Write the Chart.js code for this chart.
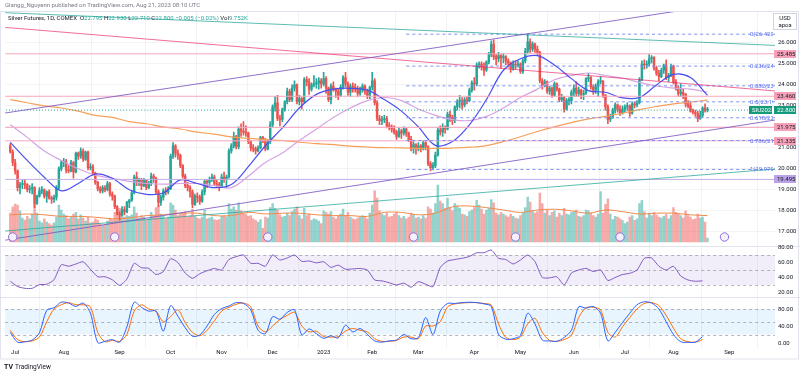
<!DOCTYPE html>
<html>
<head>
<meta charset="utf-8">
<script src="https://cdn.jsdelivr.net/npm/chart.js@4.4.0/dist/chart.umd.min.js"></script>
<style>
  html, body { margin: 0; padding: 0; background: #fff; }
  canvas { display: block; }
</style>
</head>
<body>
<canvas id="c" width="800" height="375"></canvas>
<script>
// bar index 0 = 29 Jun 2022, 287 = 21 Aug 2023 (daily, COMEX silver)
const monthIdx = [2, 22, 45, 66, 87, 108, 129, 149, 168, 191, 210, 232, 253, 273, 296];
const monthLabels = ['Jul', 'Aug', 'Sep', 'Oct', 'Nov', 'Dec', '2023', 'Feb', 'Mar', 'Apr', 'May', 'Jun', 'Jul', 'Aug', 'Sep'];

const opens = [
  21.10, 20.80, 20.30, 19.90, 19.10, 19.25, 19.30, 19.25, 19.00, 19.05, 19.10, 18.35, 18.70, 18.95, 19.00, 18.70, 18.90, 18.60, 18.55, 18.65, 19.10, 20.00,
  20.30, 20.35, 19.95, 19.90, 20.30, 19.85, 20.75, 20.60, 20.85, 20.45, 20.80, 20.05, 20.10, 19.80, 19.35, 19.05, 18.95, 19.10, 19.00, 19.30, 18.80, 18.70, 18.20,
  17.85, 17.80, 18.05, 17.95, 18.40, 18.50, 18.85, 19.60, 19.40, 19.50, 19.20, 19.45, 19.10, 19.30, 19.65, 19.55, 18.90, 18.40, 18.65, 18.95, 18.90,
  19.05, 20.60, 21.10, 20.75, 20.65, 20.15, 19.65, 19.20, 19.10, 18.90, 18.30, 18.70, 18.65, 18.45, 18.90, 19.40, 19.35, 19.50, 19.60, 19.30, 19.25,
  19.15, 19.60, 19.50, 19.60, 20.85, 21.10, 21.55, 21.05, 21.90, 21.80, 21.75, 21.70, 21.30, 21.00, 20.95, 20.85, 21.00, 21.50, 21.40, 20.95, 21.30,
  22.10, 22.95, 23.15, 22.40, 22.35, 22.85, 23.20, 23.70, 23.30, 23.85, 24.00, 23.20, 23.35, 23.20, 24.25, 24.15, 23.80, 24.00, 24.05, 24.10, 24.20,
  24.05, 24.30, 23.85, 23.30, 23.95, 23.80, 23.70, 23.50, 23.90, 24.35, 24.05, 23.65, 23.95, 23.90, 23.80, 23.60, 23.75, 23.95, 23.70, 23.50,
  23.90, 24.20, 23.15, 22.40, 22.30, 22.35, 22.40, 22.05, 22.00, 21.90, 21.75, 21.55, 21.80, 21.70, 21.90, 21.70, 21.40, 20.95, 21.15,
  20.95, 21.10, 20.95, 21.25, 21.05, 20.25, 20.05, 20.15, 20.65, 21.85, 21.75, 21.95, 21.90, 22.60, 22.45, 22.30, 22.95, 23.20, 23.25, 23.05, 23.30, 23.25, 23.75,
  24.10, 24.05, 24.95, 25.00, 24.85, 24.70, 25.10, 25.45, 25.95, 25.35, 25.25, 25.40, 25.30, 25.35, 25.15, 25.05, 24.80, 25.00, 24.95,
  25.00, 24.65, 25.15, 25.60, 26.05, 25.70, 25.95, 25.70, 25.55, 24.20, 23.95, 24.15, 23.70, 23.85, 23.50, 24.05, 23.80, 23.30, 23.40, 22.85, 23.25, 23.25,
  23.65, 23.85, 23.60, 23.75, 23.55, 23.60, 24.30, 24.35, 23.90, 23.75, 23.95, 24.15, 24.20, 23.50, 22.95, 22.35, 22.45, 22.80, 23.05, 22.85, 22.65,
  22.85, 22.95, 23.00, 22.65, 23.10, 23.05, 23.15, 24.25, 25.00, 24.95, 25.00, 25.25, 25.30, 24.80, 24.55, 24.40, 24.70, 24.95, 24.35, 24.45,
  24.90, 24.15, 23.85, 23.60, 23.65, 23.55, 23.10, 23.00, 22.75, 22.70, 22.65, 22.40, 22.55, 22.90, 22.795
];
const highs = [
  21.20, 20.90, 20.45, 19.95, 19.35, 19.45, 19.50, 19.30, 19.20, 19.30, 19.15, 18.75, 19.10, 19.15, 19.05, 18.95, 19.00, 18.70, 18.75, 19.20, 20.10, 20.40,
  20.50, 20.45, 20.15, 20.40, 20.35, 20.80, 20.80, 21.00, 20.95, 20.85, 20.85, 20.25, 20.20, 19.85, 19.40, 19.15, 19.20, 19.20, 19.40, 19.35, 18.90, 18.75, 18.25,
  17.95, 18.20, 18.20, 18.45, 18.55, 18.95, 19.70, 19.85, 19.55, 19.55, 19.55, 19.50, 19.40, 19.80, 19.75, 19.60, 19.00, 18.75, 19.05, 19.10, 19.15,
  20.70, 21.25, 21.15, 20.90, 20.70, 20.20, 19.75, 19.35, 19.20, 19.00, 18.80, 18.85, 18.75, 19.00, 19.50, 19.50, 19.60, 19.75, 19.70, 19.45, 19.35,
  19.75, 19.85, 19.70, 20.95, 21.20, 21.75, 21.60, 22.00, 22.15, 22.25, 22.05, 21.75, 21.35, 21.15, 21.05, 21.10, 21.55, 21.55, 21.45, 21.40, 22.25,
  23.05, 23.45, 23.50, 22.55, 22.90, 23.25, 23.85, 23.80, 24.00, 24.20, 24.05, 23.50, 23.40, 24.35, 24.40, 24.30, 24.10, 24.45, 24.30, 24.35, 24.30,
  24.60, 24.40, 23.90, 24.05, 24.15, 23.85, 23.80, 24.00, 24.45, 24.60, 24.15, 24.05, 24.10, 24.05, 23.95, 23.90, 24.05, 24.00, 23.80, 23.95,
  24.60, 24.30, 23.25, 22.55, 22.50, 22.55, 22.50, 22.20, 22.10, 22.05, 21.85, 21.95, 21.90, 22.00, 21.95, 21.75, 21.55, 21.30, 21.20,
  21.25, 21.15, 21.35, 21.30, 21.10, 20.35, 20.30, 20.80, 21.95, 22.05, 22.15, 22.05, 22.70, 22.75, 22.55, 23.00, 23.30, 23.50, 23.40, 23.40, 23.45, 23.85, 24.20,
  24.35, 25.05, 25.10, 25.10, 25.05, 25.15, 25.55, 26.10, 26.15, 25.45, 25.55, 25.45, 25.50, 25.40, 25.25, 25.10, 25.15, 25.15, 25.15,
  25.05, 25.25, 25.75, 26.42, 26.20, 26.05, 26.00, 25.85, 25.60, 24.30, 24.25, 24.20, 23.95, 23.90, 24.15, 24.10, 23.85, 23.55, 23.45, 23.35, 23.40, 23.75,
  24.00, 24.15, 23.90, 23.80, 23.75, 24.35, 24.55, 24.40, 24.00, 24.05, 24.25, 24.40, 24.20, 23.55, 23.05, 22.60, 22.90, 23.15, 23.10, 23.00, 23.00,
  23.05, 23.15, 23.05, 23.20, 23.20, 23.25, 24.35, 25.15, 25.20, 25.15, 25.45, 25.40, 25.35, 24.90, 24.70, 24.80, 25.00, 25.20, 24.55, 25.00,
  24.95, 24.25, 23.95, 24.05, 23.80, 23.60, 23.25, 23.15, 22.85, 22.80, 22.75, 22.75, 22.95, 23.10, 22.93
];
const lows = [
  20.75, 20.15, 19.75, 18.95, 18.80, 19.05, 19.05, 18.90, 18.85, 18.80, 18.15, 18.30, 18.65, 18.80, 18.60, 18.40, 18.55, 18.35, 18.40, 18.50, 19.00, 19.90,
  20.10, 19.80, 19.80, 19.85, 19.55, 19.80, 20.45, 20.50, 20.35, 20.40, 19.95, 19.95, 19.70, 19.25, 18.95, 18.85, 18.85, 18.90, 18.95, 18.70, 18.50, 18.10, 17.80,
  17.55, 17.75, 17.80, 17.90, 18.15, 18.45, 18.80, 19.20, 19.20, 19.00, 19.15, 19.00, 19.05, 19.20, 19.35, 18.80, 18.20, 18.25, 18.50, 18.75, 18.80,
  19.00, 20.50, 20.55, 20.45, 20.05, 19.55, 19.10, 18.95, 18.65, 18.15, 18.25, 18.40, 18.30, 18.40, 18.75, 19.10, 19.20, 19.40, 19.20, 19.10, 18.95,
  19.10, 19.35, 19.10, 19.55, 20.75, 21.00, 20.95, 20.95, 21.55, 21.60, 21.55, 21.20, 20.85, 20.80, 20.70, 20.80, 20.95, 21.25, 20.85, 20.90, 21.20,
  22.00, 22.75, 22.30, 22.05, 22.25, 22.75, 23.10, 23.20, 23.20, 23.70, 23.10, 23.05, 22.85, 23.15, 23.95, 23.55, 23.70, 23.90, 23.85, 23.80, 23.85,
  23.95, 23.60, 23.20, 23.10, 23.70, 23.40, 23.30, 23.45, 23.80, 23.90, 23.50, 23.45, 23.65, 23.65, 23.45, 23.50, 23.65, 23.55, 23.35, 23.35,
  23.75, 23.05, 22.30, 22.10, 22.10, 22.20, 21.95, 21.85, 21.75, 21.65, 21.40, 21.50, 21.45, 21.60, 21.55, 21.30, 20.85, 20.75, 20.70,
  20.85, 20.80, 20.90, 20.90, 20.15, 19.90, 19.95, 20.05, 20.60, 21.60, 21.55, 21.70, 21.85, 22.25, 22.10, 22.20, 22.80, 22.90, 22.85, 22.95, 23.10, 23.20, 23.65,
  23.75, 23.95, 24.80, 24.70, 24.45, 24.65, 25.00, 25.35, 25.20, 24.95, 25.10, 24.80, 25.05, 24.95, 24.85, 24.60, 24.70, 24.75, 24.85,
  24.55, 24.55, 25.05, 25.50, 25.55, 25.60, 25.55, 25.40, 24.10, 23.80, 23.90, 23.60, 23.55, 23.40, 23.45, 23.70, 23.20, 23.20, 22.70, 22.80, 23.05, 23.10,
  23.45, 23.45, 23.45, 23.35, 23.30, 23.55, 24.15, 23.80, 23.55, 23.60, 23.45, 24.05, 23.40, 22.80, 22.15, 22.25, 22.40, 22.65, 22.70, 22.55, 22.60,
  22.70, 22.80, 22.50, 22.60, 22.90, 22.95, 23.10, 24.20, 24.75, 24.80, 24.90, 25.05, 24.70, 24.45, 24.20, 24.35, 24.55, 24.25, 24.15, 24.40,
  24.05, 23.75, 23.45, 23.45, 23.35, 22.95, 22.90, 22.70, 22.60, 22.50, 22.25, 22.35, 22.45, 22.70, 22.71
];
const closes = [
  20.80, 20.30, 19.90, 19.10, 19.25, 19.30, 19.25, 19.00, 19.05, 19.10, 18.35, 18.70, 18.95, 19.00, 18.70, 18.90, 18.60, 18.55, 18.65, 19.10, 20.00, 20.30,
  20.35, 19.95, 19.90, 20.30, 19.85, 20.75, 20.60, 20.85, 20.45, 20.80, 20.05, 20.10, 19.80, 19.35, 19.05, 18.95, 19.10, 19.00, 19.30, 18.80, 18.70, 18.20, 17.85,
  17.80, 18.05, 17.95, 18.40, 18.50, 18.85, 19.60, 19.40, 19.50, 19.20, 19.45, 19.10, 19.30, 19.65, 19.55, 18.90, 18.40, 18.65, 18.95, 18.90, 19.05,
  20.60, 21.10, 20.75, 20.65, 20.15, 19.65, 19.20, 19.10, 18.90, 18.30, 18.70, 18.65, 18.45, 18.90, 19.40, 19.35, 19.50, 19.60, 19.30, 19.25, 19.15,
  19.60, 19.50, 19.60, 20.85, 21.10, 21.55, 21.05, 21.90, 21.80, 21.75, 21.70, 21.30, 21.00, 20.95, 20.85, 21.00, 21.50, 21.40, 20.95, 21.30, 22.10,
  22.95, 23.15, 22.40, 22.35, 22.85, 23.20, 23.70, 23.30, 23.85, 24.00, 23.20, 23.35, 23.20, 24.25, 24.15, 23.80, 24.00, 24.05, 24.10, 24.20, 24.05,
  24.30, 23.85, 23.30, 23.95, 23.80, 23.70, 23.50, 23.90, 24.35, 24.05, 23.65, 23.95, 23.90, 23.80, 23.60, 23.75, 23.95, 23.70, 23.50, 23.90,
  24.20, 23.15, 22.40, 22.30, 22.35, 22.40, 22.05, 22.00, 21.90, 21.75, 21.55, 21.80, 21.70, 21.90, 21.70, 21.40, 20.95, 21.15, 20.95,
  21.10, 20.95, 21.25, 21.05, 20.25, 20.05, 20.15, 20.65, 21.85, 21.75, 21.95, 21.90, 22.60, 22.45, 22.30, 22.95, 23.20, 23.25, 23.05, 23.30, 23.25, 23.75, 24.10,
  24.05, 24.95, 25.00, 24.85, 24.70, 25.10, 25.45, 25.95, 25.35, 25.25, 25.40, 25.30, 25.35, 25.15, 25.05, 24.80, 25.00, 24.95, 25.00,
  24.65, 25.15, 25.60, 26.05, 25.70, 25.95, 25.70, 25.55, 24.20, 23.95, 24.15, 23.70, 23.85, 23.50, 24.05, 23.80, 23.30, 23.40, 22.85, 23.25, 23.25, 23.65,
  23.85, 23.60, 23.75, 23.55, 23.60, 24.30, 24.35, 23.90, 23.75, 23.95, 24.15, 24.20, 23.50, 22.95, 22.35, 22.45, 22.80, 23.05, 22.85, 22.65, 22.85,
  22.95, 23.00, 22.65, 23.10, 23.05, 23.15, 24.25, 25.00, 24.95, 25.00, 25.25, 25.30, 24.80, 24.55, 24.40, 24.70, 24.95, 24.35, 24.45, 24.90,
  24.15, 23.85, 23.60, 23.65, 23.55, 23.10, 23.00, 22.75, 22.70, 22.65, 22.40, 22.55, 22.90, 22.80, 22.80
];
// volume, thousands of contracts
const volumes = [
  72, 88, 95, 92, 78, 60, 55, 64, 58, 70, 96, 72, 52, 48, 58, 50, 46, 42, 48, 62, 92, 80,
  70, 66, 58, 62, 70, 74, 58, 68, 60, 52, 62, 48, 50, 58, 55, 46, 42, 44, 52, 60, 56, 74, 82,
  84, 70, 62, 66, 64, 68, 88, 72, 60, 66, 62, 54, 58, 74, 66, 86, 92, 70, 64, 58, 62,
  98, 92, 80, 66, 70, 72, 76, 62, 66, 82, 64, 60, 58, 62, 80, 58, 60, 62, 56, 54, 56,
  64, 66, 62, 96, 82, 88, 80, 98, 78, 72, 70, 64, 66, 58, 54, 50, 56, 34, 62, 60, 86,
  96, 84, 80, 68, 62, 64, 72, 66, 76, 82, 88, 66, 58, 84, 66, 70, 54, 58, 56, 52, 46,
  78, 74, 70, 76, 62, 58, 64, 70, 82, 66, 74, 62, 58, 56, 60, 62, 66, 64, 58, 72,
  92, 128, 110, 78, 70, 66, 72, 62, 64, 70, 74, 66, 60, 64, 58, 62, 72, 68, 60,
  62, 58, 66, 60, 88, 82, 72, 96, 142, 102, 96, 84, 110, 86, 78, 96, 90, 84, 70, 68, 64, 76, 80,
  86, 104, 92, 82, 70, 80, 84, 106, 98, 72, 68, 74, 70, 66, 62, 70, 64, 60, 58,
  66, 72, 86, 112, 100, 78, 72, 76, 122, 96, 72, 80, 66, 74, 78, 62, 72, 66, 84, 70, 68, 74,
  76, 80, 64, 62, 66, 80, 78, 72, 66, 62, 70, 126, 72, 94, 108, 70, 56, 64, 62, 58, 54,
  46, 50, 62, 66, 54, 58, 96, 104, 76, 60, 72, 66, 74, 68, 62, 60, 64, 70, 58, 66,
  86, 74, 70, 66, 60, 78, 66, 62, 56, 58, 70, 60, 62, 50, 10
];

// indicator lines, one value every maStep bars
const maStep = 7;
const sma20 = [21.26, 20.4, 19.6, 18.95, 19.3, 19.75, 19.55, 19.0, 18.78, 18.85, 19.47, 19.3, 19.1, 19.25, 20.1, 21.1, 21.95, 22.9, 23.55, 23.8, 23.84,
  23.75, 23.3, 22.75, 22.0, 21.12, 21.3, 22.1, 23.3, 24.7, 25.25, 25.4, 24.95, 24.3, 23.73, 23.65, 23.38, 23.4, 24.0, 24.5, 24.35, 23.5];
const sma50 = [22.1, 21.5, 20.85, 20.4, 20.0, 19.7, 19.55, 19.4, 19.3, 19.27, 19.3, 19.3, 19.2, 19.1, 19.65, 20.3, 20.75, 21.35, 21.9, 22.45, 22.9,
  23.25, 23.4, 23.25, 22.85, 22.55, 22.35, 22.3, 22.5, 22.9, 23.4, 23.8, 24.25, 24.45, 24.57, 24.45, 24.33, 24.12, 23.95, 23.85, 23.8, 23.66];
const sma200 = [23.3, 23.15, 23.0, 22.9, 22.75, 22.55, 22.45, 22.25, 22.15, 22.0, 21.9, 21.75, 21.65, 21.52, 21.45, 21.4, 21.35, 21.27, 21.2, 21.15, 21.08,
  21.04, 21.01, 21.0, 20.97, 20.97, 20.99, 21.03, 21.11, 21.3, 21.53, 21.78, 22.0, 22.2, 22.38, 22.5, 22.65, 22.82, 22.97, 23.1, 23.18, 23.28];
const volMa = [68, 70, 68, 64, 64, 62, 58, 60, 66, 68, 72, 72, 66, 66, 74, 70, 72, 72, 68, 66, 66,
  64, 74, 74, 68, 72, 88, 90, 86, 80, 74, 80, 82, 78, 72, 80, 76, 70, 72, 72, 68, 66];

// oscillators, one value every oscStep bars
const oscStep = 3;
const rsi = [35, 28, 25.6, 25.6, 30.5, 31, 37, 57, 55, 58, 61, 51, 41, 41, 37, 29.5, 38, 58.9, 53, 52.2, 44, 47.8, 65, 60, 46, 38.9, 45, 49, 52, 50,
  64, 67.8, 70, 58.9, 58.9, 55, 70, 63.3, 66, 70, 61.5, 62, 59.5, 61, 53.5, 56.5, 51, 51.5, 52, 50, 36.7, 35.5, 33, 30, 32.5, 27, 34.5, 31, 27.8, 53.5,
  62, 64, 65.6, 68, 73, 73, 76.7, 65.6, 64, 58, 63.3, 70, 61.1, 40, 39.5, 41, 30, 46, 50, 52.2, 48, 50, 36, 40, 44, 45.6, 50, 65.6, 66, 55,
  50, 55, 42, 36.7, 35, 35.5];
const stochK = [25, 2, 3, 7, 24, 77, 83, 96, 94, 86, 94, 70, 1, 4, 8, 2, 38, 96, 84, 75, 75, 28, 88, 63, 36, 16, 19, 40, 67, 81,
  87, 95, 93, 78, 30, 22, 62, 56, 72, 78, 19, 33, 22, 11, 17, 12, 42, 26, 34, 20, 5, 2, 5, 7, 20, 10, 13, 60, 20, 75,
  93, 93, 95, 96, 95, 92, 86, 20, 9, 10, 18, 70, 45, 7, 5, 4, 13, 30, 85, 82, 86, 70, 5, 25, 48, 70, 90, 97, 94, 80,
  50, 20, 3, 1.6, 2, 15];
const stochD = [30, 8, 3, 5, 14, 50, 80, 90, 95, 90, 90, 85, 25, 3, 6, 4, 20, 75, 90, 80, 75, 50, 62, 78, 48, 25, 17, 30, 52, 75,
  84, 91, 94, 85, 40, 26, 40, 55, 65, 72, 40, 26, 28, 15, 14, 15, 28, 34, 30, 26, 10, 4, 4, 6, 14, 14, 10, 40, 40, 50,
  85, 92, 94, 95, 95, 93, 89, 45, 13, 8, 14, 45, 58, 25, 6, 4, 8, 18, 60, 83, 84, 78, 25, 14, 38, 60, 80, 93, 95, 88,
  65, 35, 10, 3, 2, 8];

// drawings
const fibLevels = [0, 0.236, 0.382, 0.5, 0.618, 0.786, 1];
const fibPrices = [26.420, 24.898, 23.956, 23.195, 22.434, 21.350, 19.970];
const fibStart = 163;
const pinkLevels = [25.485, 23.460, 21.975, 21.335];
const purpleLevel = 19.495;
const lastPrice = 22.800;
const rollovers = [1, 43, 106, 166, 208, 251, 294];
// trend lines as [bar, price] end points
const trendLines = [
  { pts: [[-3, 22.646], [320, 28.32]], color: 'rgba(126,87,194,0.85)' },
  { pts: [[-3, 16.58], [320, 22.42]], color: 'rgba(126,87,194,0.85)' },
  { pts: [[-3, 17.026], [320, 20.04]], color: 'rgba(38,166,154,0.75)' },
  { pts: [[-3, 26.753], [320, 23.664]], color: 'rgba(233,30,99,0.65)' },
  { pts: [[-3, 27.45], [320, 25.86]], color: 'rgba(38,166,154,0.75)' }
];

const up = '#26a69a', down = '#ef5350';
const isUp = closes.map((c, i) => c >= opens[i]);
const stepPts = (arr, step) => arr.map((v, k) => ({ x: k * step, y: v }));
const hLine = (p) => [{ x: -3, y: p }, { x: 320, y: p }];
const FONT = 'Roboto, "Liberation Sans", sans-serif';

const lineDs = (data, color, yAxisID, order, extra) => Object.assign({
  type: 'line', data, yAxisID, order, borderColor: color, borderWidth: 1,
  pointRadius: 0, tension: 0.35, fill: false
}, extra || {});

const datasets = [
  {
    type: 'bar', yAxisID: 'vol', order: 40, grouped: false, barThickness: 1.8,
    data: volumes.map((v, i) => ({ x: i, y: v })),
    backgroundColor: isUp.map(u => u ? 'rgba(38,166,154,0.5)' : 'rgba(239,83,80,0.5)')
  },
  lineDs(stepPts(volMa, maStep), '#f08a4b', 'vol', 35),
  {
    type: 'bar', yAxisID: 'y', order: 31, grouped: false, barThickness: 1,
    data: highs.map((h, i) => ({ x: i, y: [lows[i], h] })),
    backgroundColor: isUp.map(u => u ? up : down)
  },
  {
    type: 'bar', yAxisID: 'y', order: 30, grouped: false, barThickness: 1.8, minBarLength: 1,
    data: closes.map((c, i) => ({ x: i, y: [Math.min(opens[i], c), Math.max(opens[i], c)] })),
    backgroundColor: isUp.map(u => u ? up : down)
  },
  lineDs(stepPts(sma200, maStep), '#f5a05a', 'y', 12, { borderWidth: 1.2 }),
  lineDs(stepPts(sma50, maStep), '#d7a3e3', 'y', 11, { borderWidth: 1.2 }),
  lineDs(stepPts(sma20, maStep), '#4a4ff0', 'y', 10, { borderWidth: 1.2 }),
  lineDs(stepPts(rsi, oscStep), '#7e57c2', 'rsi', 5, { tension: 0.2 }),
  lineDs(stepPts(stochD, oscStep), '#ff6d00', 'stoch', 6, { tension: 0.3 }),
  lineDs(stepPts(stochK, oscStep), '#2962ff', 'stoch', 5, { tension: 0.3 }),
  {
    type: 'scatter', yAxisID: 'vol', order: 1,
    data: rollovers.map(r => ({ x: r, y: 12.5 })),
    pointRadius: 4.2, pointBackgroundColor: '#f3effb', pointBorderColor: '#8e6fd8', pointBorderWidth: 1
  }
];
pinkLevels.forEach(p => datasets.push(lineDs(hLine(p), '#f7a6bf', 'y', 8)));
datasets.push(lineDs(hLine(purpleLevel), '#c0aee6', 'y', 8));
datasets.push(lineDs(hLine(lastPrice), '#26a69a', 'y', 7, { borderDash: [1, 2] }));
fibPrices.forEach(p => datasets.push(lineDs([{ x: fibStart, y: p }, { x: 320, y: p }], '#7f91f3', 'y', 7, { borderDash: [3, 3] })));
trendLines.forEach(t => datasets.push(lineDs(t.pts.map(([x, y]) => ({ x, y })), t.color, 'y', 6, { tension: 0 })));

const tag = (ctx, x, w, y, bg, fg, text) => {
  ctx.fillStyle = bg;
  ctx.fillRect(x, Math.round(y) - 4, w, 8);
  ctx.fillStyle = fg;
  ctx.fillText(text, x + 3, Math.round(y) + 0.5);
};

const panes = {
  id: 'panes',
  beforeDatasetsDraw(chart) {
    const { ctx, chartArea: a, scales: s } = chart;
    ctx.save();
    const band = (sc, lo, hi, fill) => {
      const y1 = sc.getPixelForValue(hi), y2 = sc.getPixelForValue(lo);
      ctx.fillStyle = fill;
      ctx.fillRect(a.left, y1, a.right - a.left, y2 - y1);
    };
    band(s.rsi, 30, 70, 'rgba(126,87,194,0.1)');
    band(s.stoch, 20, 80, 'rgba(33,150,243,0.1)');
    ctx.strokeStyle = 'rgba(120,123,134,0.55)';
    ctx.lineWidth = 1;
    ctx.setLineDash([3, 3]);
    [[s.rsi, [70, 50, 30]], [s.stoch, [80, 50, 20]]].forEach(([sc, lv]) => lv.forEach(v => {
      const y = Math.round(sc.getPixelForValue(v)) + 0.5;
      ctx.beginPath(); ctx.moveTo(a.left, y); ctx.lineTo(a.right, y); ctx.stroke();
    }));
    ctx.setLineDash([]);
    ctx.strokeStyle = '#e0e3eb';
    [246.5, 297.5].forEach(y => {
      ctx.beginPath(); ctx.moveTo(0, y); ctx.lineTo(800, y); ctx.stroke();
    });
    ctx.restore();
  },
  afterDraw(chart) {
    const { ctx, chartArea: a, scales: s } = chart;
    ctx.save();
    ctx.textBaseline = 'middle';
    ctx.font = '6px ' + FONT;

    // oscillator axis labels
    ctx.fillStyle = '#131722';
    [80, 60, 40, 20].forEach(v => ctx.fillText(v.toFixed(2), 778, s.rsi.getPixelForValue(v)));
    [80, 40, 0].forEach(v => ctx.fillText(v.toFixed(2), 778, s.stoch.getPixelForValue(v)));

    // fib labels, cut off by the price scale
    ctx.save();
    ctx.beginPath(); ctx.rect(a.left, a.top, a.right - a.left - 2, a.bottom - a.top); ctx.clip();
    ctx.fillStyle = '#5a6ff0';
    fibLevels.forEach((r, i) => ctx.fillText(r + '(' + fibPrices[i].toFixed(3) + ')', 750, s.y.getPixelForValue(fibPrices[i]) + 0.5));
    ctx.restore();

    // price scale tags
    pinkLevels.forEach(p => tag(ctx, 774, 22, s.y.getPixelForValue(p), '#f7a1b9', '#131722', p.toFixed(3)));
    tag(ctx, 774, 22, s.y.getPixelForValue(purpleLevel), '#b9a3e6', '#131722', purpleLevel.toFixed(3));
    tag(ctx, 749, 23, s.y.getPixelForValue(lastPrice), '#159a7b', '#ffffff', 'SIU2023');
    tag(ctx, 774, 22, s.y.getPixelForValue(lastPrice), '#159a7b', '#ffffff', lastPrice.toFixed(3));

    // currency box
    ctx.strokeStyle = '#d1d4dc';
    ctx.strokeRect(773.5, 13.5, 23, 16);
    ctx.fillStyle = '#131722';
    ctx.textAlign = 'center';
    ctx.fillText('USD', 785, 18);
    ctx.fillText('\u0430\u0440\u043e\u0437', 785, 25);
    ctx.textAlign = 'left';

    // header and legend
    ctx.fillStyle = '#787b86';
    ctx.fillText('Glangg_Nguyenn published on TradingView.com, Aug 21, 2023 08:10 UTC', 5, 5.5);
    let x = 8;
    [['Silver Futures, 1D, COMEX  ', '#131722'], ['O', '#131722'], ['22.795 ', up], ['H', '#131722'], ['22.930 ', up],
     ['L', '#131722'], ['22.710 ', up], ['C', '#131722'], ['22.800 ', up], ['\u22120.005 (\u22120.02%) ', up],
     ['Vol', '#131722'], ['9.752K', up]].forEach(([t, c]) => {
      ctx.fillStyle = c;
      ctx.fillText(t, x, 18.5);
      x += ctx.measureText(t).width;
    });

    // logo
    ctx.font = 'bold 7px ' + FONT;
    ctx.fillStyle = '#131722';
    ctx.fillText('TV', 4, 367);
    ctx.font = '6.5px ' + FONT;
    ctx.fillText('TradingView', 15, 367);

    // frame
    ctx.strokeStyle = '#e0e3eb';
    ctx.strokeRect(0.5, 11.5, 798, 347.5);
    ctx.restore();
  }
};

Chart.defaults.font.family = FONT;
Chart.defaults.font.size = 6;
Chart.defaults.color = '#131722';

new Chart(document.getElementById('c'), {
  type: 'bar',
  data: { datasets },
  options: {
    responsive: false,
    animation: false,
    events: [],
    layout: { padding: { top: 12, bottom: 15, left: 0, right: 0 } },
    plugins: { legend: { display: false }, tooltip: { enabled: false } },
    scales: {
      x: {
        type: 'linear', min: -2.09, max: 314.8, offset: false,
        grid: { color: 'rgba(42,46,57,0.06)', drawTicks: false },
        border: { display: false },
        ticks: { padding: 1, maxRotation: 0, autoSkip: false, font: { size: 6 },
          callback: v => monthLabels[monthIdx.indexOf(v)] },
        afterBuildTicks: sc => { sc.ticks = monthIdx.map(v => ({ value: v })); },
        afterFit: sc => { sc.height = 12; }
      },
      y: {
        position: 'right', min: 11.455, max: 27.478,
        grid: { color: 'rgba(42,46,57,0.06)', drawTicks: false },
        border: { display: false },
        ticks: { padding: 3, font: { size: 6 }, callback: v => v.toFixed(3) },
        afterBuildTicks: sc => { sc.ticks = [17, 18, 19, 20, 21, 22, 23, 24, 25, 26].map(v => ({ value: v })); },
        afterFit: sc => { sc.width = 25; }
      },
      vol: { axis: 'y', position: 'right', display: false, min: -265, max: 575 },
      rsi: { axis: 'y', position: 'right', display: false, min: -54, max: 394 },
      stoch: { axis: 'y', position: 'right', display: false, min: -11.76, max: 778.8 }
    }
  },
  plugins: [panes]
});
</script>
</body>
</html>
